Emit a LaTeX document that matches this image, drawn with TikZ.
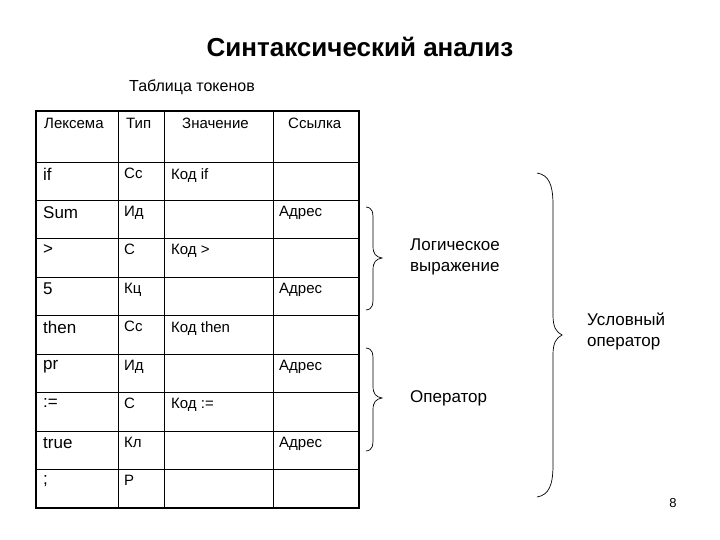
\documentclass[tikz,border=0pt]{standalone}
\usepackage{fontspec}
\setmainfont{Liberation Sans}
\begin{document}
\begin{tikzpicture}[x=1pt,y=-1pt,
 cell/.style={anchor=north west,inner sep=0pt,font=\fontsize{15}{17}\selectfont},
 lex/.style={anchor=north west,inner sep=0pt,font=\fontsize{17}{19}\selectfont},
 lbl/.style={anchor=west,inner sep=0pt,align=left,font=\fontsize{17}{21}\selectfont},
 br/.style={line width=0.7pt}]
\useasboundingbox (0,0) rectangle (720,540);
\node[inner sep=0pt,font=\fontsize{26}{30}\selectfont\bfseries] (title) at (360,47) {Синтаксический анализ};
\node[inner sep=0pt,font=\fontsize{16}{19}\selectfont] (sub) at (192,87) {Таблица токенов};
% grid
\draw[line width=1.6pt] (36,111) rectangle (359,508);
\foreach \y in {162,200,238,277,315,354,392,431,469} \draw[line width=0.8pt] (36,\y) -- (359,\y);
\foreach \x in {118,164,273} \draw[line width=0.8pt] (\x,111) -- (\x,508);
\node[cell] (h1) at (44,118) {Лексема};
\node[cell] (h2) at (126,118) {Тип};
\node[cell] (h3) at (182,118) {Значение};
\node[cell] (h4) at (288,118) {Ссылка};
\def\ys{{162,200,238,277,315,354,392,431,469}}
\foreach \i/\a/\b/\c/\d in {0/if/Сс/Код if/,1/Sum/Ид//Адрес,2/>/С/Код >/,3/5/Кц//Адрес,4/then/Сс/Код then/,5/pr/Ид//Адрес,6/:=/С/Код :=/,7/true/Кл//Адрес,8/;/Р//}{
 \pgfmathsetmacro\yy{\ys[\i]+6}
 \node[lex] (l\i) at (43,\yy) {\a};
 \node[cell] (t\i) at (124,\yy) {\b};
 \node[cell] (v\i) at (171,\yy) {\c};
 \node[cell] (r\i) at (279,\yy) {\d};
}
% braces
\draw[br] (366,207) .. controls (373,208) and (373,212) .. (373,222) -- (373,246) .. controls (373,254) and (376,257) .. (382,258)
 .. controls (376,259) and (373,262) .. (373,270) -- (373,295) .. controls (373,305) and (373,309) .. (366,310);
\draw[br] (366,348) .. controls (373,349) and (373,353) .. (373,363) -- (373,386) .. controls (373,394) and (376,397) .. (382,398)
 .. controls (376,399) and (373,402) .. (373,410) -- (373,436) .. controls (373,446) and (373,450) .. (366,451);
\draw[br] (537,173) .. controls (549,175) and (553,185) .. (553,205) -- (553,315) .. controls (553,327) and (556,332) .. (562,335)
 .. controls (556,338) and (553,343) .. (553,355) -- (553,465) .. controls (553,485) and (549,495) .. (537,497);
\node[lbl] (b1) at (410,257) {Логическое\\выражение};
\node[lbl] (b2) at (410,398) {Оператор};
\node[lbl] (b3) at (587,331) {Условный\\оператор};
\node[inner sep=0pt,font=\fontsize{13}{15}\selectfont] (pg) at (673,503) {8};
\end{tikzpicture}
\end{document}
